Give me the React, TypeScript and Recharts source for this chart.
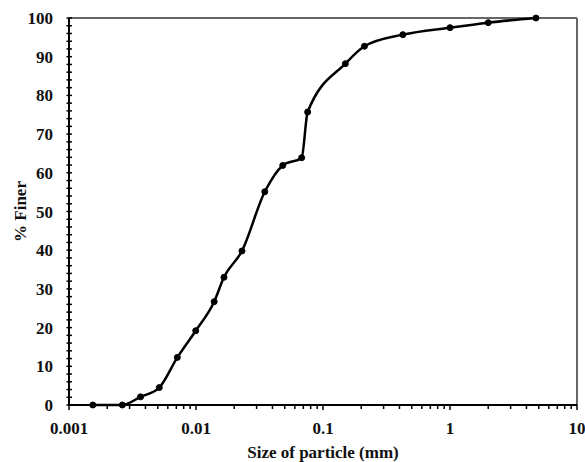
import React from "react";
import { LineChart, Line, XAxis, YAxis, ReferenceLine } from "recharts";

const particleSize = [0.00154, 0.00263, 0.00366, 0.00514, 0.00713, 0.00995, 0.0139, 0.0166, 0.023, 0.0348, 0.0482, 0.0679, 0.0757, 0.15, 0.212, 0.425, 1.0, 2.0, 4.75];
const percentFiner = [0, 0, 2.1, 4.5, 12.3, 19.2, 26.7, 33.0, 39.8, 55.1, 61.9, 63.9, 75.7, 88.2, 92.7, 95.7, 97.5, 98.8, 100];

const xMajorTicks = [0.001, 0.01, 0.1, 1, 10];
const xMinorMultipliers = [2, 3, 4, 5, 6, 7, 8, 9];
const yMajorTicks = [0, 10, 20, 30, 40, 50, 60, 70, 80, 90, 100];
const yMinorStep = 2;

const data = particleSize.map((s, i) => ({ size: s, finer: percentFiner[i] }));

const xTicks: number[] = [];
xMajorTicks.forEach((m, i) => {
  xTicks.push(m);
  if (i < xMajorTicks.length - 1) xMinorMultipliers.forEach((k) => xTicks.push(+(m * k).toPrecision(6)));
});
const yTicks: number[] = [];
for (let v = 0; v <= 100; v += yMinorStep) yTicks.push(v);

const FONT = "'Liberation Serif', 'Times New Roman', serif";

const XTick = (props: any) => {
  const { x, y, payload } = props;
  const isMajor = xMajorTicks.some((m) => Math.abs(m - payload.value) / m < 1e-6);
  return (
    <g>
      <line x1={x} x2={x} y1={y} y2={y + (isMajor ? 5 : 4)} stroke="#000" strokeWidth={1.5} />
      {isMajor && (
        <text x={x} y={y + 29} textAnchor="middle" fontFamily={FONT} fontWeight="bold" fontSize={17} fill="#111">
          {String(payload.value)}
        </text>
      )}
    </g>
  );
};

const YTick = (props: any) => {
  const { x, y, payload } = props;
  const isMajor = yMajorTicks.includes(payload.value);
  return (
    <g>
      <line x1={x - 2.5} x2={x + 3} y1={y} y2={y} stroke="#000" strokeWidth={1.5} />
      {isMajor && (
        <text x={x - 16} y={y + 6} textAnchor="end" fontFamily={FONT} fontWeight="bold" fontSize={17} fill="#111">
          {String(payload.value)}
        </text>
      )}
    </g>
  );
};

export default function App() {
  return (
    <div style={{ position: "absolute", left: 0, top: 0, background: "#fff" }}>
      <LineChart width={585} height={462} data={data} margin={{ top: 18, right: 8, bottom: 0, left: 0 }}>
        <XAxis
          dataKey="size"
          type="number"
          scale="log"
          domain={[0.001, 10]}
          allowDataOverflow
          ticks={xTicks}
          interval={0}
          tickSize={0}
          tickMargin={0}
          tick={<XTick />}
          axisLine={{ stroke: "#000", strokeWidth: 2 }}
          tickLine={false}
          height={57}
          label={{ value: "Size of particle (mm)", position: "insideBottom", offset: 4, style: { fontFamily: FONT, fontWeight: "bold", fontSize: 17, fill: "#111" } }}
        />
        <YAxis
          type="number"
          domain={[0, 100]}
          ticks={yTicks}
          interval={0}
          width={69}
          tickSize={0}
          tickMargin={0}
          tick={<YTick />}
          axisLine={{ stroke: "#000", strokeWidth: 2 }}
          tickLine={false}
          label={{ value: "% Finer", angle: -90, position: "insideLeft", offset: 20, style: { fontFamily: FONT, fontWeight: "bold", fontSize: 17, fill: "#111", textAnchor: "middle" } }}
        />
        <ReferenceLine y={100} stroke="#666" strokeWidth={2} ifOverflow="visible" />
        <ReferenceLine x={10} stroke="#666" strokeWidth={2} ifOverflow="visible" />
        <Line
          type="monotone"
          dataKey="finer"
          stroke="#000"
          strokeWidth={2.5}
          dot={{ r: 3, fill: "#000", stroke: "#000", strokeWidth: 1 }}
          isAnimationActive={false}
        />
      </LineChart>
    </div>
  );
}
